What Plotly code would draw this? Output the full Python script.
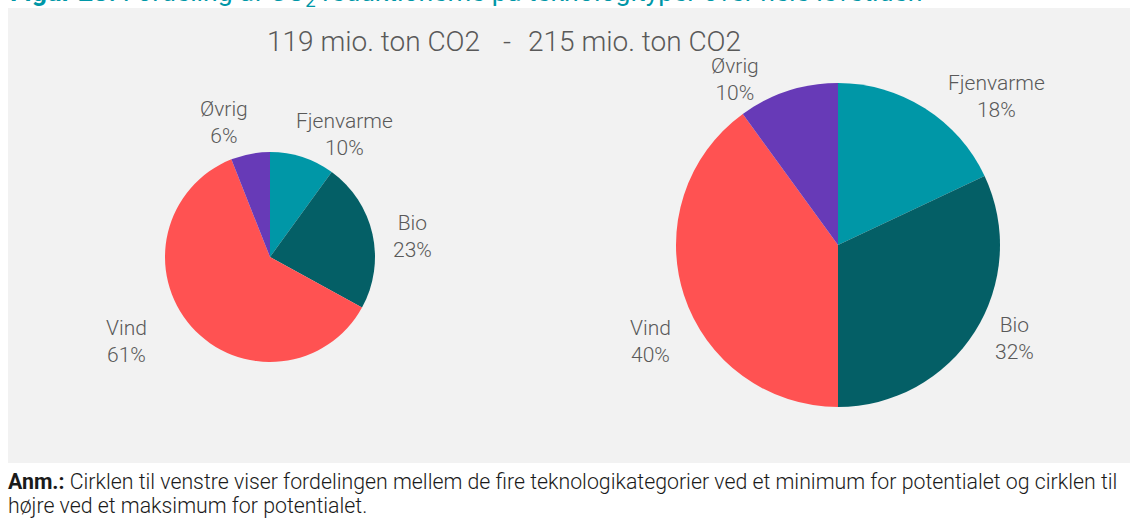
import plotly.graph_objects as go

# ---- data ----
categories = ["Fjenvarme", "Bio", "Vind", "Øvrig"]
min_share = [10, 23, 61, 6]      # 119 mio. ton CO2
max_share = [18, 32, 40, 10]     # 215 mio. ton CO2
colors = ["#0097a7", "#045f66", "#ff5252", "#673ab7"]
header_left = "119 mio. ton CO2"
header_right = "215 mio. ton CO2"
title_text = "<b>Figur 23:</b> Fordeling af CO<sub>2</sub> reduktionerne på teknologityper over hele levetiden"
note_line1 = ("<b>Anm.:</b> Cirklen til venstre viser fordelingen mellem de fire teknologikategorier ved et minimum "
              "for potentialet og cirklen til")
note_line2 = "højre ved et maksimum for potentialet."

# ---- layout (pixels) ----
W, H = 1130, 519
FONT = "Roboto"
GREY = "#595959"
# label centres (pixels) for each category, left and right pie (best-fit placement as in reference)
label_pos_left = {"Fjenvarme": (344, 135), "Bio": (412, 237), "Vind": (126, 341), "Øvrig": (224, 123)}
label_pos_right = {"Fjenvarme": (996, 96), "Bio": (1014, 338), "Vind": (650, 341), "Øvrig": (735, 80)}


def px_x(v):
    return v / W


def px_y(v):
    return 1 - v / H


fig = go.Figure()

common = dict(
    labels=categories,
    sort=False,
    direction="clockwise",
    rotation=0,
    marker=dict(colors=colors, line=dict(width=0)),
    textinfo="none",
    showlegend=False,
    hoverinfo="label+percent",
)

# left pie: centre (270,257), r=105
fig.add_trace(go.Pie(values=min_share,
                     domain=dict(x=[px_x(165), px_x(375)], y=[px_y(362), px_y(152)]),
                     **common))
# right pie: centre (838,245), r=162
fig.add_trace(go.Pie(values=max_share,
                     domain=dict(x=[px_x(676), px_x(1000)], y=[px_y(407), px_y(83)]),
                     **common))

hdr_font = dict(family=FONT, size=28, color=GREY, weight=300)
note_font = dict(family=FONT, size=21.3, color="#1a1a1a", weight=300)
lbl_font = dict(family=FONT, size=21, color=GREY, weight=300)

annotations = [
    dict(text=title_text, xref="paper", yref="paper", x=px_x(8), y=px_y(14),
         xanchor="left", yanchor="bottom", showarrow=False,
         font=dict(family=FONT, size=26.6, color="#0097a7")),
    dict(text=header_left, xref="paper", yref="paper",
         x=px_x(482), y=px_y(42), xanchor="right", yanchor="middle", showarrow=False,
         font=hdr_font),
    dict(text="-", xref="paper", yref="paper",
         x=px_x(507), y=px_y(42), xanchor="center", yanchor="middle", showarrow=False,
         font=hdr_font),
    dict(text=header_right, xref="paper", yref="paper",
         x=px_x(526), y=px_y(42), xanchor="left", yanchor="middle", showarrow=False,
         font=hdr_font),
    dict(text=note_line1, xref="paper", yref="paper", x=px_x(6), y=px_y(481),
         xanchor="left", yanchor="middle", align="left", showarrow=False,
         font=note_font),
    dict(text=note_line2, xref="paper", yref="paper", x=px_x(6), y=px_y(505),
         xanchor="left", yanchor="middle", align="left", showarrow=False,
         font=note_font),
]

total_l = sum(min_share)
total_r = sum(max_share)
for cat, v_l, v_r in zip(categories, min_share, max_share):
    for val, tot, pos in ((v_l, total_l, label_pos_left), (v_r, total_r, label_pos_right)):
        x, y = pos[cat]
        annotations.append(dict(text=f"{cat}<br>{round(100 * val / tot)}%",
                                xref="paper", yref="paper", x=px_x(x), y=px_y(y),
                                xanchor="center", yanchor="middle", align="center",
                                showarrow=False, font=lbl_font))

fig.update_layout(
    width=W, height=H,
    margin=dict(l=0, r=0, t=0, b=0),
    paper_bgcolor="white",
    plot_bgcolor="white",
    font=dict(family=FONT, color=GREY),
    shapes=[dict(type="rect", xref="paper", yref="paper",
                 x0=px_x(8), x1=1.0, y0=px_y(463), y1=px_y(8),
                 fillcolor="#f2f2f2", line=dict(width=0), layer="below")],
    annotations=annotations,
)

fig.write_html("out.html", config={"displayModeBar": False},
               post_script="document.body.style.margin='0px';")
